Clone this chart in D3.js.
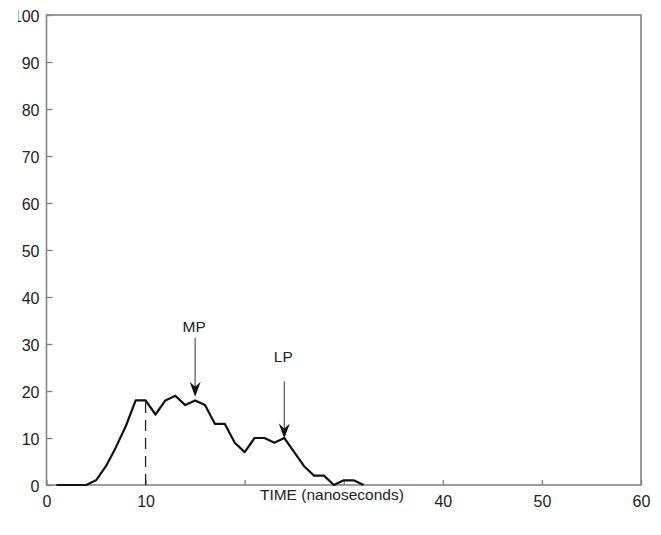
<!DOCTYPE html>
<html>
<head>
<meta charset="utf-8">
<script src="https://cdn.jsdelivr.net/npm/d3@7/dist/d3.min.js"></script>
<style>
  body { margin: 0; background: #fff; }
  svg { display: block; font-family: "Liberation Sans", Arial, sans-serif; }
</style>
</head>
<body>
<svg width="661" height="535"></svg>
<script>
// time in nanoseconds and the measured curve
var times = [1,2,3,4,5,6,7,8,9,10,11,12,13,14,15,16,17,18,19,20,21,22,23,24,25,26,27,28,29,30,31,32];
var counts = [0,0,0,0,1,4,8,12.5,18,18,15,18,19,17,18,17,13,13,9,7,10,10,9,10,7,4,2,2,0,1,1,0];

var xTicks = [0,10,20,30,40,50,60];
var xTickLabels = ["0","10","","","40","50","60"];
var yTicks = [0,10,20,30,40,50,60,70,80,90,100];

// dashed marker at the first peak
var markerX = 10;
var markerY = 18;

// arrow annotations
var arrowLabels = ["MP", "LP"];
var arrowX = [15, 24];
var arrowTail = [31.3, 22];
var arrowTip = [18.8, 9.9];
var labelY = [32.6, 26.2];

var svg = d3.select("svg");
var mLeft = 46.5, mTop = 15, mRight = 641, mBottom = 485;

var x = d3.scaleLinear().domain([0, 60]).range([mLeft, mRight]);
var y = d3.scaleLinear().domain([0, 100]).range([mBottom, mTop]);

// the left edge of the picture trims the "1" of 100
svg.append("defs").append("clipPath").attr("id", "lab")
  .append("rect").attr("x", 18 - mLeft).attr("y", 0).attr("width", 643).attr("height", 535);

// box
svg.append("rect")
  .attr("x", mLeft).attr("y", mTop)
  .attr("width", mRight - mLeft).attr("height", mBottom - mTop)
  .attr("fill", "none").attr("stroke", "#858585").attr("stroke-width", 1.6);

var xaxis = svg.append("g")
  .attr("transform", "translate(0," + mBottom + ")")
  .call(d3.axisBottom(x).tickValues(xTicks)
    .tickFormat(function (d, i) { return xTickLabels[i]; })
    .tickSizeInner(-5).tickSizeOuter(0).tickPadding(11));
var yaxis = svg.append("g")
  .attr("transform", "translate(" + mLeft + ",0)")
  .attr("clip-path", "url(#lab)")
  .call(d3.axisLeft(y).tickValues(yTicks).tickSizeInner(-6).tickSizeOuter(0).tickPadding(7));

[xaxis, yaxis].forEach(function (a) {
  a.select(".domain").remove();
  a.selectAll("line").attr("stroke", "#858585").attr("stroke-width", 1.4);
  a.selectAll("text").attr("fill", "#222").style("font-size", "16px").style("font-family", "Liberation Sans, Arial, sans-serif");
});
yaxis.selectAll("text").attr("dy", "0.42em");

svg.append("text")
  .attr("x", x(28.8))
  .attr("y", 500)
  .attr("text-anchor", "middle")
  .attr("fill", "#222")
  .style("font-size", "15.5px")
  .text("TIME (nanoseconds)");

// dashed line
svg.append("line")
  .attr("x1", x(markerX)).attr("x2", x(markerX))
  .attr("y1", y(0)).attr("y2", y(markerY))
  .attr("stroke", "#222").attr("stroke-width", 1.3)
  .attr("stroke-dasharray", "11,7");

var line = d3.line()
  .x(function (d, i) { return x(times[i]); })
  .y(function (d) { return y(d); });

svg.append("path")
  .datum(counts)
  .attr("d", line)
  .attr("fill", "none")
  .attr("stroke", "#111")
  .attr("stroke-width", 2.2)
  .attr("stroke-linejoin", "round");

// arrows
for (var i = 0; i < arrowLabels.length; i++) {
  var ax = x(arrowX[i]);
  var tip = y(arrowTip[i]);
  svg.append("line")
    .attr("x1", ax).attr("x2", ax)
    .attr("y1", y(arrowTail[i])).attr("y2", tip - 8)
    .attr("stroke", "#555").attr("stroke-width", 1.2);
  svg.append("path")
    .attr("d", "M" + ax + "," + tip + " L" + (ax - 5.5) + "," + (tip - 15) + " L" + ax + "," + (tip - 10) + " L" + (ax + 5.5) + "," + (tip - 15) + "Z")
    .attr("fill", "#111");
  svg.append("text")
    .attr("x", ax - 1)
    .attr("y", y(labelY[i]))
    .attr("text-anchor", "middle")
    .attr("fill", "#222")
    .style("font-size", "15.5px")
    .text(arrowLabels[i]);
}
</script>
</body>
</html>
